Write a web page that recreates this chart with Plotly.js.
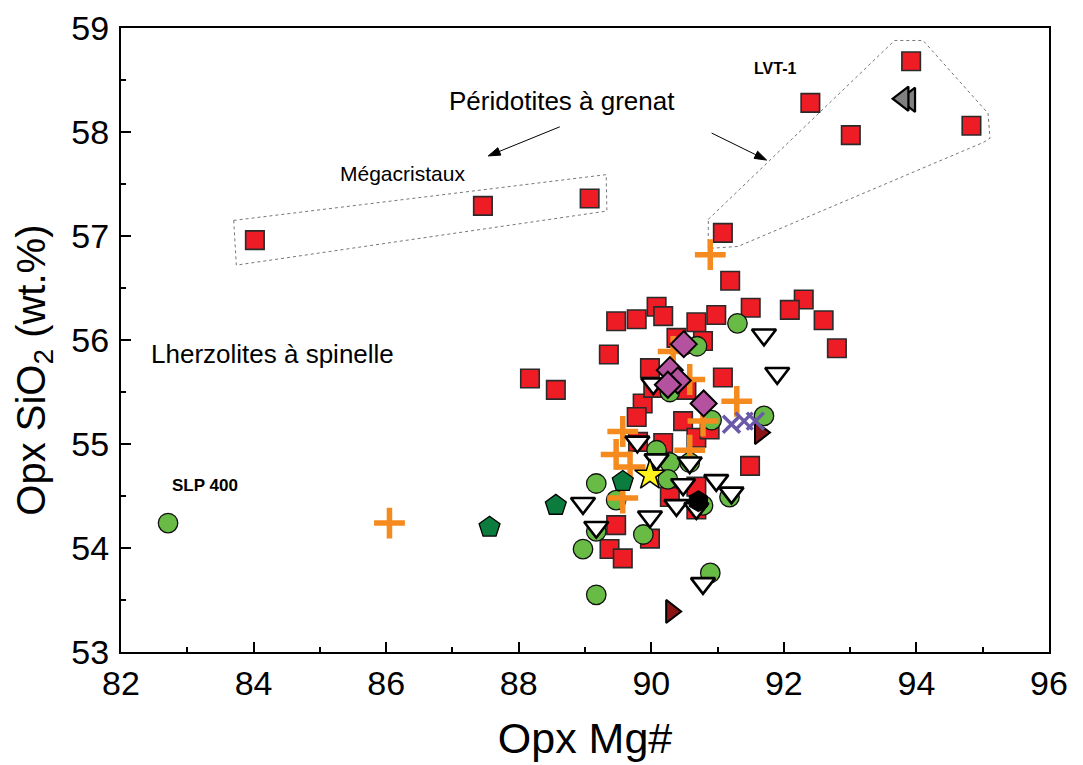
<!DOCTYPE html>
<html>
<head>
<meta charset="utf-8">
<script src="https://cdn.plot.ly/plotly-3.0.1.min.js"></script>
<style>html,body{margin:0;padding:0;background:#fff;}</style>
</head>
<body>
<div id="chart" style="width:1083px;height:765px;"></div>
<script>
// ---- Data (Opx Mg#, Opx SiO2 wt.%) ----
const squaresX = [84.02, 87.46, 89.07, 93.92, 92.40, 93.01, 94.83, 91.08, 91.19, 89.47, 89.78, 90.08, 90.18, 90.68, 90.98, 91.50, 92.30, 92.09, 92.60, 92.80, 89.36, 90.38, 90.78, 88.17, 88.56, 89.98, 91.08, 89.87, 89.78, 90.48, 90.03, 90.53, 90.68, 90.88, 89.80, 90.18, 91.49, 90.28, 90.68, 90.68, 89.47, 89.98, 89.37, 89.57];
const squaresY = [56.96, 57.29, 57.36, 58.68, 58.28, 57.97, 58.06, 57.03, 56.57, 56.18, 56.20, 56.32, 56.23, 56.17, 56.24, 56.31, 56.39, 56.29, 56.19, 55.92, 55.86, 56.02, 55.99, 55.63, 55.52, 55.73, 55.64, 55.39, 55.26, 55.22, 55.54, 55.52, 55.06, 55.14, 55.02, 55.01, 54.79, 54.49, 54.59, 54.37, 54.22, 54.09, 53.99, 53.90];

const circlesX = [82.71, 91.30, 90.50, 90.69, 90.28, 90.91, 91.70, 90.08, 90.28, 90.25, 90.58, 89.17, 89.47, 90.78, 91.18, 89.17, 89.88, 88.97, 90.89, 89.17];
const circlesY = [54.24, 56.16, 55.95, 55.94, 55.50, 55.23, 55.27, 54.94, 54.82, 54.66, 54.82, 54.62, 54.46, 54.41, 54.49, 54.16, 54.13, 53.99, 53.76, 53.55];

const crossesX = [86.05, 90.89, 90.33, 90.58, 91.29, 90.78, 89.57, 89.47, 89.68, 90.58, 89.57];
const crossesY = [54.24, 56.82, 55.89, 55.62, 55.41, 55.22, 55.12, 54.90, 54.78, 54.94, 54.48];

const openTriX = [91.70, 91.90, 90.03, 89.79, 90.08, 90.58, 90.48, 90.98, 91.21, 88.97, 90.38, 90.68, 89.17, 89.98, 90.78];
const openTriY = [56.05, 55.68, 55.58, 55.02, 54.85, 54.82, 54.61, 54.65, 54.53, 54.43, 54.41, 54.38, 54.20, 54.30, 53.66];

const diamondsX = [90.49, 90.28, 90.40, 90.25, 90.79];
const diamondsY = [55.96, 55.71, 55.61, 55.57, 55.39];

const pentagonsX = [87.56, 88.56, 89.57];
const pentagonsY = [54.20, 54.41, 54.64];

const starX = [89.98];
const starY = [54.70];

const hexX = [90.71];
const hexY = [54.45];

const rightTriX = [91.64, 90.30];
const rightTriY = [55.11, 53.39];

const xMarksX = [91.21, 91.40, 91.57];
const xMarksY = [55.19, 55.22, 55.22];

const grayTriX = [93.90, 93.80];
const grayTriY = [58.31, 58.32];

const xTicks = [82, 84, 86, 88, 90, 92, 94, 96];
const yTicks = [53, 54, 55, 56, 57, 58, 59];

const FONT = 'Arial, "Liberation Sans", sans-serif';

function tr(x, y, marker) {
  return {x: x, y: y, type: 'scatter', mode: 'markers', marker: marker, hoverinfo: 'x+y', cliponaxis: false};
}

const traces = [
  tr(squaresX, squaresY, {symbol: 'square', size: 18.5, color: '#ee1c25', line: {color: '#2a2a2a', width: 1.6}}),
  tr(circlesX, circlesY, {symbol: 'circle', size: 19.5, color: '#68bb45', line: {color: '#111', width: 1.3}}),
  tr(crossesX, crossesY, {symbol: 'cross-thin-open', size: 22, color: '#f58a1f', line: {color: '#f58a1f', width: 5.5}}),
  tr(openTriX, openTriY, {symbol: 'triangle-down', size: 21, color: '#ffffff', line: {color: '#000', width: 2.6}}),
  tr(diamondsX, diamondsY, {symbol: 'diamond', size: 20, color: '#b4529f', line: {color: '#000', width: 2}}),
  tr(pentagonsX, pentagonsY, {symbol: 'pentagon', size: 22, color: '#0c7b3e', line: {color: '#000', width: 1.3}}),
  tr(starX, starY, {symbol: 'star', size: 23, color: '#fff21a', line: {color: '#000', width: 1.5}}),
  tr(hexX, hexY, {symbol: 'hexagon', size: 21, color: '#000', line: {color: '#000', width: 1}}),
  tr(rightTriX, rightTriY, {symbol: 'triangle-right', size: 20, color: '#8a1515', line: {color: '#000', width: 2}}),
  tr(xMarksX, xMarksY, {symbol: 'x-thin-open', size: 17, color: '#6a58a8', line: {color: '#6a58a8', width: 3.5}}),
  tr(grayTriX, grayTriY, {symbol: 'triangle-left', size: 21, color: '#808080', line: {color: '#000', width: 2.2}})
];

// Arrow helper: line + filled head (head drawn in pixels anchored at the tip)
const PX_PER_X = (1083 - 121 - 34) / 14;
const PX_PER_Y = (765 - 28 - 113) / 6;
function arrowShapes(x0, y0, x1, y1) {
  const dx = (x1 - x0) * PX_PER_X, dy = (y1 - y0) * PX_PER_Y; // y up
  const L = Math.hypot(dx, dy), ux = dx / L, uy = dy / L;
  const hl = 12, hw = 4;
  const bx = -ux * hl, by = -uy * hl;
  const p1x = bx - uy * hw, p1y = by + ux * hw;
  const p2x = bx + uy * hw, p2y = by - ux * hw;
  return [
    {type: 'line', xref: 'x', yref: 'y', x0: x0, y0: y0,
     x1: x1 - (x1 - x0) * (hl * 0.8 / L), y1: y1 - (y1 - y0) * (hl * 0.8 / L),
     line: {color: '#000', width: 1}},
    {type: 'path', xref: 'x', yref: 'y', xsizemode: 'pixel', ysizemode: 'pixel',
     xanchor: x1, yanchor: y1,
     path: 'M0,0 L' + p1x.toFixed(2) + ',' + p1y.toFixed(2) + ' L' + p2x.toFixed(2) + ',' + p2y.toFixed(2) + ' Z',
     fillcolor: '#000', line: {color: '#000', width: 1}}
  ];
}

const layout = {
  width: 1083,
  height: 765,
  margin: {l: 121, r: 34, t: 28, b: 113},
  paper_bgcolor: '#fff',
  plot_bgcolor: '#fff',
  showlegend: false,
  font: {family: FONT, color: '#000'},
  xaxis: {
    range: [82, 96],
    tickvals: xTicks,
    ticktext: xTicks.map(String),
    ticks: 'inside', ticklen: 10, tickwidth: 2, tickcolor: '#000',
    minor: {dtick: 1, ticks: 'inside', ticklen: 5, tickwidth: 2, tickcolor: '#000'},
    showgrid: false, zeroline: false,
    showline: true, linewidth: 2, linecolor: '#000', mirror: true,
    tickfont: {size: 34, family: FONT},
    title: {text: 'Opx Mg#', font: {size: 43, family: FONT}, standoff: 22}
  },
  yaxis: {
    range: [53, 59],
    tickvals: yTicks,
    ticktext: yTicks.map(String),
    ticks: 'inside', ticklen: 10, tickwidth: 2, tickcolor: '#000',
    minor: {dtick: 0.5, ticks: 'inside', ticklen: 5, tickwidth: 2, tickcolor: '#000'},
    showgrid: false, zeroline: false,
    showline: true, linewidth: 2, linecolor: '#000', mirror: true,
    tickfont: {size: 34, family: FONT},
    ticklabelstandoff: 3
  },
  shapes: [
    {type: 'path', xref: 'x', yref: 'y', layer: 'below',
     path: 'M83.70,57.15 L89.32,57.59 L89.33,57.24 L83.74,56.72 Z',
     line: {color: '#777', width: 1, dash: 'dot'}},
    {type: 'path', xref: 'x', yref: 'y', layer: 'below',
     path: 'M90.86,57.16 L93.67,58.88 L94.10,58.88 L95.08,58.18 L95.11,57.94 L95.01,57.90 L91.31,56.90 L90.86,56.88 Z',
     line: {color: '#777', width: 1, dash: 'dot'}}
  ].concat(arrowShapes(88.62, 58.05, 87.54, 57.77), arrowShapes(90.91, 57.99, 91.74, 57.73)),
  annotations: [
    {x: -0.094, y: 0.452, xref: 'paper', yref: 'paper', xanchor: 'center', yanchor: 'middle',
     text: 'Opx SiO<sub>2</sub> (wt.%)', textangle: -90, showarrow: false, font: {size: 40, family: FONT}},
    {x: 88.65, y: 58.30, xref: 'x', yref: 'y', text: 'Péridotites à grenat', showarrow: false, font: {size: 26, family: FONT}},
    {x: 86.25, y: 57.60, xref: 'x', yref: 'y', text: 'Mégacristaux', showarrow: false, font: {size: 21, family: FONT}},
    {x: 84.29, y: 55.87, xref: 'x', yref: 'y', text: 'Lherzolites à spinelle', showarrow: false, font: {size: 26, family: FONT}},
    {x: 91.86, y: 58.61, xref: 'x', yref: 'y', text: '<b>LVT-1</b>', showarrow: false, font: {size: 16, family: FONT}},
    {x: 83.27, y: 54.60, xref: 'x', yref: 'y', text: '<b>SLP 400</b>', showarrow: false, font: {size: 17, family: FONT}}
  ]
};

Plotly.newPlot('chart', traces, layout, {staticPlot: true, displayModeBar: false});
</script>
</body>
</html>
